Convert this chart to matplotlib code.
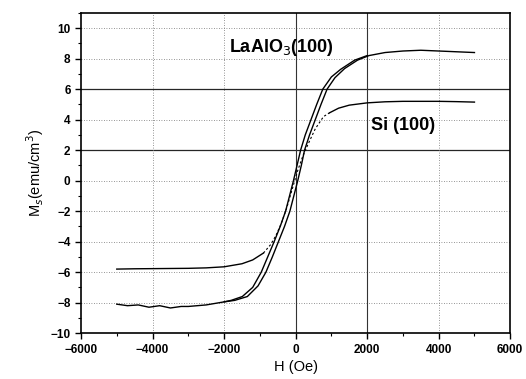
import matplotlib.pyplot as plt
import numpy as np
from matplotlib.ticker import MultipleLocator

plt.rcParams['font.family'] = ['Liberation Sans', 'DejaVu Sans']

# LaAlO3(100) loop, ascending branch (right side of loop)
la_up_h = [-5000, -4700, -4400, -4100, -3800, -3500, -3200, -3000, -2500, -2000, -1700, -1350,
           -1050, -830, -650, -480, -310, -160, -50, 60, 160, 250, 390, 550, 710, 880, 1100,
           1370, 1730, 2050, 2500, 3000, 3500, 4000, 4500, 5000]
la_up_m = [-8.1, -8.2, -8.15, -8.3, -8.2, -8.35, -8.25, -8.25, -8.15, -7.95, -7.85, -7.6,
           -6.9, -6.0, -5.0, -4.0, -3.0, -2.0, -1.0, 0.0, 1.0, 2.0, 3.0, 4.0, 5.0, 6.0, 6.75,
           7.35, 7.9, 8.2, 8.4, 8.5, 8.55, 8.5, 8.45, 8.4]
# LaAlO3(100) loop, descending branch (left side of loop)
la_dn_h = [-2000, -1800, -1490, -1200, -960, -780, -600, -430, -280, -170, -60, 40, 140,
           270, 430, 590, 760, 1000, 1260, 1650, 2000]
la_dn_m = [-7.95, -7.85, -7.6, -7.0, -6.0, -5.0, -4.0, -3.0, -2.0, -1.0, 0.0, 1.0, 2.0,
           3.0, 4.0, 5.0, 6.0, 6.8, 7.3, 7.9, 8.2]

# Si(100) loop
si_neg_h = [-5000, -4500, -4000, -3500, -3000, -2500, -2000, -1500, -1200, -900]
si_neg_m = [-5.8, -5.78, -5.77, -5.76, -5.75, -5.72, -5.65, -5.45, -5.2, -4.75]
si_mid_h = [-900, -700, -550, -400, -250, -100, 50, 200, 350, 550, 780, 950]
si_mid_m = [-4.75, -4.2, -3.6, -2.8, -1.8, -0.6, 0.6, 1.6, 2.4, 3.4, 4.2, 4.45]
si_pos_h = [950, 1200, 1500, 2000, 2500, 3000, 3500, 4000, 4500, 5000]
si_pos_m = [4.45, 4.75, 4.95, 5.1, 5.17, 5.2, 5.2, 5.2, 5.18, 5.15]

fig = plt.figure(figsize=(5.26, 3.79), dpi=100)
ax = fig.add_axes([0.154, 0.121, 0.816, 0.845])

# scanned-looking grid
for y in [-8, -6, -4, -2, 0, 4, 8, 10]:
    ax.axhline(y, color='0.45', lw=0.6, ls=(0, (1, 2)), zorder=1)
for y in [2, 6]:
    ax.axhline(y, color='0.15', lw=0.9, zorder=1)
for x in [-4000, -2000, 4000]:
    ax.axvline(x, color='0.45', lw=0.6, ls=(0, (1, 2)), zorder=1)
for x in [0, 2000]:
    ax.axvline(x, color='0.2', lw=0.8, zorder=1)

ax.plot(la_up_h, la_up_m, color='black', lw=1.0, zorder=3)
ax.plot(la_dn_h, la_dn_m, color='black', lw=1.0, zorder=3)
ax.plot(si_neg_h, si_neg_m, color='black', lw=1.0, zorder=3)
ax.plot(si_mid_h, si_mid_m, color='black', lw=0.8, ls=(0, (2, 2)), zorder=3)
ax.plot(si_pos_h, si_pos_m, color='black', lw=1.0, zorder=3)

ax.text(-1850, 8.7, 'LaAlO$_3$(100)', fontsize=13, fontweight='bold', va='center')
ax.text(2100, 3.6, 'Si (100)', fontsize=13, fontweight='bold', va='center')

ax.set_xlim(-6000, 6000)
ax.set_ylim(-10, 11)
ax.set_xticks([-6000, -4000, -2000, 0, 2000, 4000, 6000])
ax.set_yticks([-10, -8, -6, -4, -2, 0, 2, 4, 6, 8, 10])
ax.xaxis.set_minor_locator(MultipleLocator(1000))
ax.yaxis.set_minor_locator(MultipleLocator(1))
ax.tick_params(which='major', direction='out', length=4, width=1, labelsize=8.5)
ax.tick_params(which='minor', direction='out', length=2, width=0.8)
for lab in ax.get_xticklabels() + ax.get_yticklabels():
    lab.set_fontweight('bold')
for s in ax.spines.values():
    s.set_linewidth(1.2)

ax.set_xlabel('H (Oe)', fontsize=10.5, labelpad=3)
ax.set_ylabel('M$_s$(emu/cm$^3$)', fontsize=10.5, labelpad=3)

fig.savefig('out.png', dpi=100)
